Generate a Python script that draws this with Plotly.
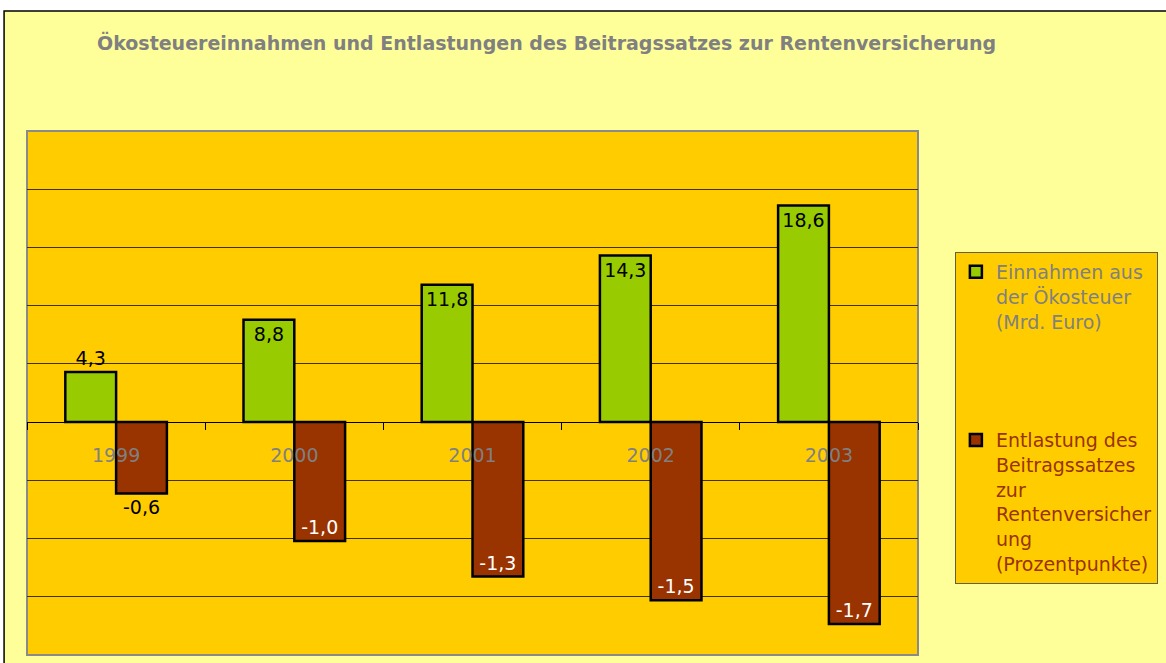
import plotly.graph_objects as go

# ---- data ----
years = ["1999", "2000", "2001", "2002", "2003"]
oekosteuer = [4.3, 8.8, 11.8, 14.3, 18.6]          # Mrd. Euro
entlastung = [-0.6, -1.0, -1.3, -1.5, -1.7]        # Prozentpunkte
oeko_textpos = ["outside", "inside", "inside", "inside", "inside"]
entl_textpos = ["outside", "inside", "inside", "inside", "inside"]
name_oeko = "Einnahmen aus<br>der Ökosteuer<br>(Mrd. Euro)"
name_entl = ("<span style='color:#993300'>Entlastung des<br>Beitragssatzes<br>zur<br>"
             "Rentenversicher<br>ung<br>(Prozentpunkte)</span>")
title_text = "<b>Ökosteuereinnahmen und Entlastungen des Beitragssatzes zur Rentenversicherung</b>"

# ---- layout geometry (pixels) ----
W, H = 1166, 663
L, R, T, B = 27, 921, 131, 655
PW, PH = R - L, B - T

def px_x(p):
    return (p - L) / PW

def px_y(p):
    return (B - p) / PH

y1_range = [-20, 25]
k = 10.2
y2_range = [y1_range[0] / k, y1_range[1] / k]
zero_pos = -y1_range[0] / (y1_range[1] - y1_range[0])

FONT = "DejaVu Sans"

fig = go.Figure()
fig.add_trace(go.Bar(
    x=years, y=oekosteuer, name=name_oeko, legendgroup="a",
    marker=dict(color="#99CC00", line=dict(color="black", width=2.5)),
    width=0.285, offset=-0.285,
    texttemplate="%{y:.1f}", textposition=oeko_textpos, insidetextanchor="end",
    textangle=0, textfont=dict(family=FONT, size=19, color="black"),
    insidetextfont=dict(color="black"), outsidetextfont=dict(color="black"),
    cliponaxis=False, yaxis="y",
))
fig.add_trace(go.Bar(
    x=years, y=entlastung, name=name_entl, legendgroup="b",
    marker=dict(color="#993300", line=dict(color="black", width=2.5)),
    width=0.285, offset=0,
    texttemplate="%{y:.1f}", textposition=entl_textpos, insidetextanchor="end",
    textangle=0, textfont=dict(family=FONT, size=19, color="white"),
    insidetextfont=dict(color="white"), outsidetextfont=dict(color="black"),
    cliponaxis=False, yaxis="y2",
))

fig.update_layout(
    width=W, height=H,
    margin=dict(l=L, r=W - R, t=T, b=H - B, pad=0),
    paper_bgcolor="white", plot_bgcolor="rgba(0,0,0,0)",
    separators=",.",
    font=dict(family=FONT, size=19, color="#808080"),
    barmode="overlay",
    showlegend=True,
    legend=dict(
        x=px_x(958), y=px_y(252), xanchor="left", yanchor="top",
        bgcolor="#FFCC00", bordercolor="#66603a", borderwidth=1,
        font=dict(family=FONT, size=19, color="#808080"),
        tracegroupgap=91, traceorder="grouped", valign="top",
    ),
    xaxis=dict(
        type="category", range=[-0.5, 4.5],
        showline=True, linecolor="black", linewidth=1,
        ticks="outside", ticklen=7, tickcolor="black", tickwidth=1,
        tickson="boundaries", anchor="free", position=zero_pos,
        ticklabelstandoff=16,
        tickfont=dict(family=FONT, size=19, color="#808080"),
        showgrid=False, zeroline=False,
    ),
    yaxis=dict(
        range=y1_range, dtick=5, tick0=0,
        showgrid=True, gridcolor="#403300", gridwidth=1,
        zeroline=True, zerolinecolor="black", zerolinewidth=1,
        showticklabels=False, ticks="",
    ),
    yaxis2=dict(
        overlaying="y", side="right", range=y2_range,
        showgrid=False, zeroline=False, showticklabels=False, ticks="",
    ),
    shapes=[
        dict(type="rect", xref="paper", yref="paper", layer="below",
             x0=px_x(4), x1=px_x(1175), y0=px_y(675), y1=px_y(11),
             fillcolor="#FFFF99", line=dict(color="black", width=1.5)),
        dict(type="rect", xref="paper", yref="paper", layer="below",
             x0=0, x1=1, y0=0, y1=1,
             fillcolor="#FFCC00", line=dict(color="#8a8a8a", width=2)),
    ],
    annotations=[
        dict(text=title_text, xref="paper", yref="paper",
             x=px_x(95), y=px_y(42), xanchor="left", yanchor="middle",
             showarrow=False, font=dict(family=FONT, size=19, color="#808080")),
    ],
)

fig.write_html("out.html", config={"displayModeBar": False},
               post_script="document.body.style.margin='0';document.body.style.overflow='hidden';")
